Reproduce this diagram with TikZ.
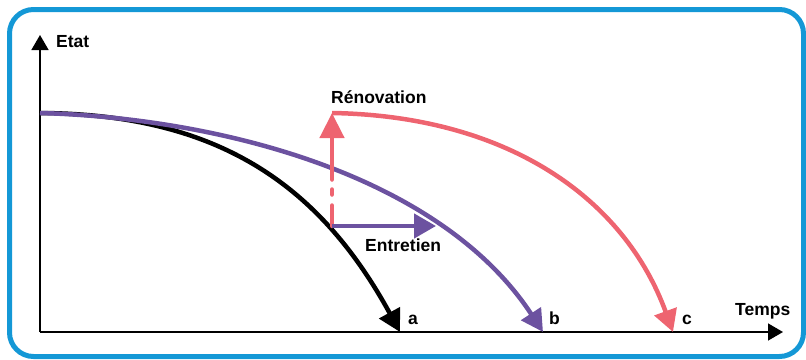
\documentclass[tikz,border=0pt]{standalone}
\usepackage{fontspec}
\setmainfont{Liberation Sans}
\usetikzlibrary{arrows.meta}
\definecolor{frameblue}{RGB}{20,152,214}
\definecolor{vpurple}{RGB}{108,82,160}
\definecolor{vred}{RGB}{238,100,112}
\tikzset{
  lbl/.style={anchor=base west,inner sep=0pt,font=\fontsize{17.5}{18}\selectfont\bfseries},
  axis/.style={line width=1.5pt,-{Triangle[length=15pt,width=17pt]}},
  curve/.style={line width=4.5pt,-{Triangle[length=22pt,width=23pt]}},
}
\begin{document}
\begin{tikzpicture}[x=1pt,y=-1pt]
\useasboundingbox (0,0) rectangle (806,359);
\draw[frameblue,line width=5pt,rounded corners=24pt] (9.5,9.5) rectangle (803.5,356.5);
% axes
\coordinate (O) at (40,332);
\coordinate (Ytop) at (40,35);
\coordinate (Xend) at (783,332);
\draw[axis] (O) -- (Ytop);
\draw[axis] (O) -- (Xend);
\node[lbl] (etat) at (56,47.5) {Etat};
\node[lbl] (temps) at (735,315.5) {Temps};
% curve start points
\coordinate (S) at (40,113);
\coordinate (A) at (400,332);
\coordinate (B) at (543,332);
\coordinate (C) at (673,332);
\coordinate (R) at (332,113);
\coordinate (M) at (332,226);
\coordinate (E) at (436,226);
\coordinate (D1) at (332,205.5);
\coordinate (D2) at (332,194.5);
\coordinate (D3) at (332,189.5);
\coordinate (D4) at (332,179.5);
% curves
\draw[curve,black] (S) .. controls (215,114) and (318,182) .. (A);
\draw[curve,vpurple] (S) .. controls (220,118) and (440,175) .. (B);
\draw[curve,vred] (R) .. controls (510,116) and (625,200) .. (C);
% renovation and entretien arrows
\begin{scope}[line width=4.5pt,vred,line cap=round]
\draw (M) -- (D1);
\draw (D2) -- (D3);
\draw[-{Triangle[length=25pt,width=24pt]}] (D4) -- (R);
\end{scope}
\draw[line width=4.5pt,vpurple,-{Triangle[length=22pt,width=24pt]}] (M) -- (E);
% labels
\node[lbl] (ren) at (331,103.5) {Rénovation};
\node[lbl] (ent) at (365,251) {Entretien};
\node[lbl] (la) at (408,324) {a};
\node[lbl] (lb) at (549,324) {b};
\node[lbl] (lc) at (682,324) {c};
\end{tikzpicture}
\end{document}
